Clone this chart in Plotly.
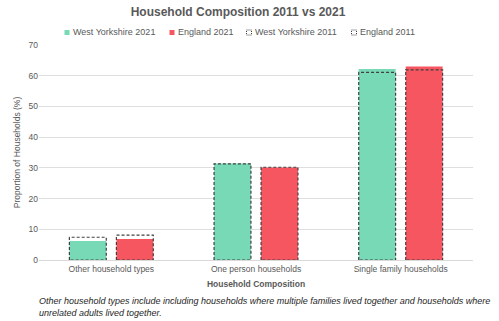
import plotly.graph_objects as go

# Household composition shares (%)
categories = ["Other household types", "One person households", "Single family households"]
west_yorkshire_2021 = [6.2, 31.4, 62.2]
england_2021 = [6.8, 30.1, 63.0]
west_yorkshire_2011 = [7.4, 31.3, 61.1]
england_2011 = [8.1, 30.2, 61.9]

series_names = ["West Yorkshire 2021", "England 2021", "West Yorkshire 2011", "England 2011"]

GREEN = "#77d9b6"
RED = "#f5565f"
OUTLINE = "#404040"
TEXT = "#595959"
FONT = "Liberation Sans, Arial, sans-serif"

BAR_W = 0.255
OFFSETS = [-0.29, 0.035]

# plot-area geometry (px), used to convert key positions to paper units
L_MARGIN, T_MARGIN, PLOT_W, PLOT_H = 39, 45, 434, 215


def outline_path(values, offset):
    """Closed rectangles (one per category) for an outline-only series."""
    xs, ys = [], []
    for i, v in enumerate(values):
        x0 = i + offset
        x1 = x0 + BAR_W
        xs += [x0, x0, x1, x1, x0, None]
        ys += [0, v, v, 0, 0, None]
    return xs, ys


fig = go.Figure()

fig.add_trace(go.Bar(
    name=series_names[0], x=categories, y=west_yorkshire_2021,
    marker=dict(color=GREEN, line=dict(width=0)),
    offset=OFFSETS[0], width=BAR_W, showlegend=False,
))
fig.add_trace(go.Bar(
    name=series_names[1], x=categories, y=england_2021,
    marker=dict(color=RED, line=dict(width=0)),
    offset=OFFSETS[1], width=BAR_W, showlegend=False,
))

for name, vals, off in [(series_names[2], west_yorkshire_2011, OFFSETS[0]),
                        (series_names[3], england_2011, OFFSETS[1])]:
    xs, ys = outline_path(vals, off)
    fig.add_trace(go.Scatter(
        name=name, x=xs, y=ys, xaxis="x2", mode="lines",
        line=dict(color=OUTLINE, width=1.2, dash="3px,2px"),
        hoverinfo="skip", showlegend=False,
    ))

# Compact key row above the plot: small square swatch followed by its label
key_styles = [
    dict(fillcolor=GREEN, line=dict(width=0)),
    dict(fillcolor=RED, line=dict(width=0)),
    dict(fillcolor="rgba(0,0,0,0)", line=dict(color=OUTLINE, width=1, dash="1px,1px")),
    dict(fillcolor="rgba(0,0,0,0)", line=dict(color=OUTLINE, width=1, dash="1px,1px")),
]
key_px = [67, 172, 249, 354]   # swatch centres along the key row
KEY_ROW_PX = 32.5
SW = 2.5                       # half swatch size, px

px_x = lambda p: (p - L_MARGIN) / PLOT_W
px_y = lambda p: (T_MARGIN + PLOT_H - p) / PLOT_H

shapes, annotations = [], []
for name, style, cx in zip(series_names, key_styles, key_px):
    shapes.append(dict(
        type="rect", xref="paper", yref="paper",
        x0=px_x(cx - SW), x1=px_x(cx + SW),
        y0=px_y(KEY_ROW_PX + SW), y1=px_y(KEY_ROW_PX - SW),
        **style,
    ))
    annotations.append(dict(
        text=name, xref="paper", yref="paper",
        x=px_x(cx + SW + 1.5), y=px_y(KEY_ROW_PX), xanchor="left", yanchor="middle",
        showarrow=False, font=dict(size=9, color=TEXT),
    ))

annotations.append(dict(
    text="<i>Other household types include including households where multiple families lived together and households where<br>unrelated adults lived together.</i>",
    xref="paper", yref="paper", x=-0.005, y=-0.16, xanchor="left", yanchor="top",
    align="left", showarrow=False, font=dict(size=9, color="#262626"),
))

fig.update_layout(
    width=499, height=321,
    margin=dict(l=L_MARGIN, r=26, t=T_MARGIN, b=61),
    paper_bgcolor="white", plot_bgcolor="white",
    barmode="overlay", showlegend=False,
    font=dict(family=FONT, size=9, color=TEXT),
    title=dict(
        text="<b>Household Composition 2011 vs 2021</b>",
        x=0.477, xanchor="center", y=0.962, yanchor="middle",
        font=dict(size=12, color=TEXT),
    ),
    xaxis=dict(
        type="category", range=[-0.5, 2.5], showgrid=False,
        showline=False, ticks="", tickfont=dict(size=8.5, color=TEXT),
        ticklabelstandoff=2,
        title=dict(text="<b>Household Composition</b>", font=dict(size=8.5, color=TEXT), standoff=8),
    ),
    xaxis2=dict(
        overlaying="x", range=[-0.5, 2.5], visible=False,
    ),
    yaxis=dict(
        range=[0, 70], dtick=10, showgrid=True, gridcolor="#dedede", gridwidth=1,
        zeroline=True, zerolinecolor="#d9d9d9", zerolinewidth=1,
        showline=False, ticks="", tickfont=dict(size=8.5, color=TEXT),
        title=dict(text="Proportion of Households (%)", font=dict(size=8.5, color=TEXT), standoff=6),
    ),
    shapes=shapes,
    annotations=annotations,
)

fig.write_html("out.html")
